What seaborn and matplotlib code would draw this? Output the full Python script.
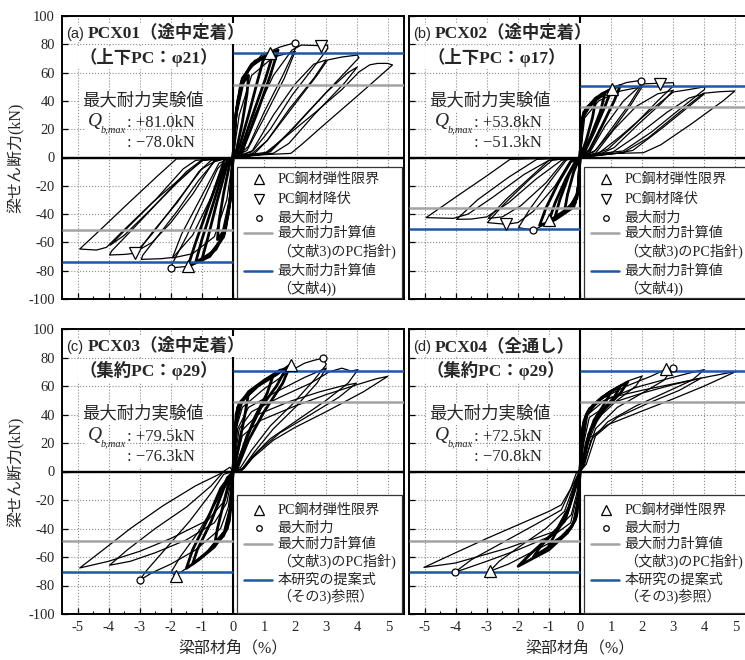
import numpy as np
import pandas as pd
import seaborn as sns
import matplotlib.pyplot as plt
from matplotlib.patches import Rectangle

# Seaborn
sns.set_theme(style="white")
JP = ['Liberation Serif', 'Noto Sans CJK JP']
plt.rcParams['font.family'] = JP

# ---------------------------------
# Data (drift angle %, shear force kN)
# ---------------------------------
x_ticks = [-5, -4, -3, -2, -1, 0, 1, 2, 3, 4, 5]
y_ticks = [-100, -80, -60, -40, -20, 0, 20, 40, 60, 80, 100]

# (a) PCX01
a_core = [
    [(0, 0), (0.05, 20), (0.15, 40), (0.3, 52), (0.5, 58), (0.45, 45), (0.3, 25), (0.12, 6), (0, 0)],
    [(0, 0), (0.08, 28), (0.25, 52), (0.55, 64), (1.0, 71), (0.8, 55), (0.5, 30), (0.2, 7), (0, 0)],
    [(0, 0), (0.09, 30), (0.28, 54), (0.6, 66), (1.1, 72), (1.3, 74), (1.05, 56), (0.6, 28), (0.25, 5), (0, 0)],
    [(0, 0), (0.1, 32), (0.3, 56), (0.7, 68), (1.2, 73.6), (1.45, 76), (1.2, 58), (0.75, 30), (0.3, 5), (0, 0)],
    [(0, 0), (-0.05, -20), (-0.15, -40), (-0.3, -52), (-0.5, -58), (-0.45, -45), (-0.3, -25), (-0.12, -6), (0, 0)],
    [(0, 0), (-0.08, -28), (-0.25, -52), (-0.55, -65), (-1.0, -72), (-0.8, -56), (-0.5, -30), (-0.2, -6), (0, 0)],
    [(0, 0), (-0.09, -30), (-0.28, -54), (-0.65, -67), (-1.2, -74), (-1.0, -58), (-0.6, -30), (-0.25, -5), (0, 0)],
    [(0, 0), (-0.1, -32), (-0.3, -56), (-0.75, -70), (-1.45, -77), (-1.2, -60), (-0.75, -32), (-0.3, -5), (0, 0)],
]
a_loops = [
    [(0, 0), (0.12, 30), (0.4, 58), (0.9, 72), (1.5, 78), (1.98, 81), (2.05, 79), (1.6, 58), (1.0, 32), (0.5, 8), (0.25, 3), (0, 0)],
    [(0, 0), (0.2, 30), (0.6, 58), (1.3, 71), (2.0, 75), (1.65, 56), (1.0, 28), (0.45, 5), (0, 0)],
    [(0, 0), (0.3, 3), (0.7, 30), (1.3, 58), (1.9, 76), (2.2, 79.5), (2.82, 79), (3.04, 79.5), (3.05, 77), (2.6, 64), (1.9, 44), (1.2, 20), (0.65, 5), (0.3, 2), (0, 0)],
    [(0, 0), (0.6, 4), (1.3, 30), (2.0, 52), (2.6, 66), (3.0, 69), (2.6, 56), (1.8, 34), (1.1, 12), (0.7, 3), (0, 0)],
    [(0, 0), (0.6, 2.5), (1.1, 12), (2.0, 38), (2.7, 58), (3.04, 68.9), (3.5, 71), (4.0, 72.4), (4.05, 70.5), (3.3, 53), (2.4, 32), (1.6, 13), (1.2, 4), (0.5, 2), (0, 0)],
    [(0, 0), (1.1, 3), (2.0, 22), (3.0, 46), (3.7, 60), (4.0, 64), (3.6, 53), (2.6, 30), (1.8, 10), (1.3, 3), (0, 0)],
    [(0, 0), (1.0, 2.5), (1.6, 13), (2.6, 31), (3.5, 48), (4.06, 60.6), (4.4, 65.5), (4.65, 66.5), (4.97, 66.5), (5.13, 65.4), (4.0, 43.5), (3.0, 24.5), (2.2, 9), (1.86, 2.9), (1.0, 2), (0, 0)],
    [(0, 0), (-0.12, -30), (-0.4, -58), (-0.9, -72), (-1.48, -77), (-2.0, -78), (-1.95, -75), (-1.5, -56), (-0.95, -30), (-0.5, -8), (-0.25, -2), (0, 0)],
    [(0, 0), (-0.2, -30), (-0.6, -56), (-1.3, -68), (-1.95, -71), (-1.65, -54), (-1.0, -27), (-0.45, -4), (0, 0)],
    [(0, 0), (-0.3, -2), (-0.7, -28), (-1.3, -55), (-1.93, -70.6), (-2.3, -71.5), (-2.95, -72), (-2.9, -69), (-2.4, -55), (-1.8, -38), (-1.1, -16), (-0.6, -3), (-0.25, -1), (0, 0)],
    [(0, 0), (-0.6, -2), (-1.3, -26), (-2.0, -46), (-2.6, -60), (-3.0, -65), (-2.6, -53), (-1.8, -32), (-1.1, -10), (-0.7, -2), (0, 0)],
    [(0, 0), (-0.5, -1.5), (-1.0, -8), (-1.9, -34), (-2.6, -54), (-3.0, -64), (-3.16, -67.7), (-3.5, -68.5), (-3.97, -68.9), (-3.9, -66), (-3.2, -50), (-2.3, -29), (-1.5, -10), (-0.96, -1), (0, 0)],
    [(0, 0), (-1.0, -2), (-1.8, -18), (-2.8, -40), (-3.5, -55), (-3.95, -62), (-3.5, -52), (-2.5, -30), (-1.6, -8), (-1.2, -2), (0, 0)],
    [(0, 0), (-0.96, -2), (-1.6, -13), (-2.6, -32), (-3.5, -51), (-4.07, -63.5), (-4.39, -65.4), (-4.93, -64.7), (-4.2, -49.7), (-3.4, -33), (-2.4, -12.5), (-1.82, -1), (-0.8, -0.8), (0, 0)],
]
a_elastic = [(1.2, 73.6), (-1.45, -77.0)]
a_yield = [(2.82, 79.0), (-3.16, -67.3)]
a_peak = [(1.98, 81.0), (-2.01, -78.0)]
a_calc = [51.2, 73.6]          # gray, blue

# (b) PCX02
b_core = [
    [(0, 0), (0.03, 15), (0.08, 28), (0.3, 36), (0.5, 40), (0.4, 28), (0.2, 12), (0.05, 3), (0, 0)],
    [(0, 0), (0.04, 18), (0.1, 30), (0.4, 39), (0.8, 45), (0.65, 32), (0.35, 15), (0.1, 3), (0, 0)],
    [(0, 0), (0.05, 22), (0.12, 32), (0.5, 42), (1.02, 48.6), (0.8, 36), (0.45, 18), (0.15, 4), (0, 0)],
    [(0, 0), (0.06, 25), (0.2, 35), (0.7, 45), (1.3, 51), (1.1, 40), (0.7, 22), (0.3, 5), (0, 0)],
    [(0, 0), (-0.03, -15), (-0.08, -26), (-0.3, -34), (-0.5, -38), (-0.4, -26), (-0.2, -10), (-0.05, -2), (0, 0)],
    [(0, 0), (-0.04, -18), (-0.1, -29), (-0.45, -37), (-0.8, -42), (-0.65, -30), (-0.35, -12), (-0.1, -2), (0, 0)],
    [(0, 0), (-0.05, -20), (-0.15, -32), (-0.6, -40), (-0.99, -44.2), (-0.8, -32), (-0.45, -15), (-0.15, -3), (0, 0)],
    [(0, 0), (-0.06, -24), (-0.2, -35), (-0.8, -44), (-1.3, -48), (-1.1, -36), (-0.7, -18), (-0.3, -3), (0, 0)],
]
b_loops = [
    [(0, 0), (0.08, 28), (0.4, 40), (1.0, 49), (1.5, 53), (1.95, 54.5), (2.04, 53.5), (1.6, 38), (1.0, 20), (0.5, 5), (0.2, 2), (0, 0)],
    [(0, 0), (0.15, 28), (0.6, 40), (1.3, 47), (2.0, 50), (1.6, 36), (1.0, 18), (0.45, 4), (0, 0)],
    [(0, 0), (0.3, 3), (0.8, 22), (1.4, 40), (2.0, 52), (2.57, 52.5), (3.0, 52.9), (3.02, 51), (2.5, 40), (1.7, 22), (0.9, 6), (0.54, 3), (0, 0)],
    [(0, 0), (0.5, 3), (1.1, 20), (1.8, 36), (2.5, 45), (3.0, 47.5), (2.6, 38), (1.9, 24), (1.1, 7), (0.7, 3), (0, 0)],
    [(0, 0), (0.6, 3), (1.3, 15), (2.2, 32), (3.0, 46.3), (3.5, 48), (4.02, 50), (4.0, 48), (3.2, 34), (2.3, 18), (1.39, 4.6), (0.5, 2.5), (0, 0)],
    [(0, 0), (1.0, 3), (1.8, 15), (2.8, 32), (3.5, 42), (4.0, 45), (3.5, 36), (2.6, 20), (1.7, 5), (1.2, 3), (0, 0)],
    [(0, 0), (1.4, 3.5), (2.2, 14), (3.2, 32), (3.97, 45.4), (4.5, 46.5), (4.98, 47), (4.6, 40), (3.6, 24), (2.6, 9), (2.04, 3.4), (0.5, 2.5), (0, 0)],
    [(0, 0), (-0.1, -25), (-0.4, -38), (-1.0, -46), (-1.5, -51.3), (-1.98, -49.6), (-1.6, -36), (-1.0, -18), (-0.43, -1.5), (0, 0)],
    [(0, 0), (-0.3, -2), (-0.8, -20), (-1.5, -38), (-2.0, -46), (-2.38, -47.2), (-2.98, -46), (-2.4, -32), (-1.6, -15), (-0.86, -1.3), (0, 0)],
    [(0, 0), (-0.5, -2), (-1.1, -18), (-1.9, -34), (-2.5, -42), (-2.95, -43), (-2.4, -30), (-1.6, -14), (-1.0, -2), (0, 0)],
    [(0, 0), (-0.6, -2), (-1.4, -15), (-2.3, -32), (-3.0, -42), (-3.5, -43.5), (-3.97, -43.7), (-3.3, -30), (-2.3, -14), (-1.39, -1.3), (0, 0)],
    [(0, 0), (-1.0, -2), (-1.8, -12), (-2.8, -28), (-3.6, -40), (-4.07, -43), (-4.95, -42.5), (-4.0, -28), (-3.0, -13), (-2.25, -1.3), (0, 0)],
]
b_elastic = [(1.02, 48.6), (-0.99, -44.2)]
b_yield = [(2.57, 52.2), (-2.38, -47.2)]
b_peak = [(1.95, 53.8), (-1.5, -51.3)]
b_calc = [35.5, 50.8]

# (c) PCX03
c_core = [
    [(0, 0), (0.04, 20), (0.1, 40), (0.2, 48), (0.5, 55), (0.4, 42), (0.25, 25), (0.1, 8), (0, 0)],
    [(0, 0), (0.05, 25), (0.15, 45), (0.5, 56), (1.0, 64), (1.3, 68), (1.1, 55), (0.7, 38), (0.35, 18), (0.1, 3), (0, 0)],
    [(0, 0), (0.1, 35), (0.3, 50), (0.9, 62), (1.5, 71), (1.7, 72), (1.4, 60), (0.9, 45), (0.45, 25), (0.15, 5), (0, 0)],
    [(0, 0), (0.08, 30), (0.22, 48), (0.8, 60), (1.4, 68), (1.85, 75), (1.6, 62), (1.0, 42), (0.5, 22), (0.15, 3), (0, 0)],
    [(0, 0), (-0.04, -18), (-0.12, -35), (-0.3, -45), (-0.6, -52), (-0.5, -40), (-0.3, -22), (-0.1, -5), (0, 0)],
    [(0, 0), (-0.08, -26), (-0.25, -42), (-0.8, -56), (-1.3, -65), (-1.15, -55), (-0.7, -35), (-0.3, -12), (0, 0)],
    [(0, 0), (-0.06, -22), (-0.18, -40), (-0.6, -53), (-1.1, -62), (-1.5, -68), (-1.3, -55), (-0.85, -35), (-0.4, -12), (0, 0)],
]
c_loops = [
    [(0, 0), (0.1, 30), (0.3, 45), (1.0, 58), (1.8, 70), (2.3, 76), (2.6, 78), (2.89, 79.5), (3.0, 75), (2.6, 64), (1.9, 47), (1.2, 32), (0.6, 15), (0.25, 3), (0, 0)],
    [(0, 0), (0.15, 30), (0.5, 45), (1.4, 56), (2.3, 66), (3.0, 72.6), (2.7, 62), (2.0, 45), (1.3, 30), (0.7, 14), (0.3, 2), (0, 0)],
    [(0, 0), (0.2, 30), (0.6, 42), (1.5, 52), (2.5, 62), (3.1, 70), (3.5, 72.5), (3.8, 70.5), (4.02, 71.5), (3.7, 62), (3.0, 50), (2.0, 35), (1.2, 23), (0.6, 10), (0.3, 2), (0, 0)],
    [(0, 0), (0.25, 28), (0.8, 40), (1.8, 49), (2.8, 56), (3.5, 60), (3.97, 62), (3.4, 52), (2.5, 40), (1.5, 27), (0.8, 14), (0.35, 2), (0, 0)],
    [(0, 0), (0.3, 25), (0.9, 36), (2.0, 46), (3.0, 54), (4.0, 61), (4.6, 65), (4.98, 66.8), (4.2, 56), (3.0, 42), (2.0, 31), (1.3, 22), (0.6, 9), (0.3, 1), (0, 0)],
    [(0, 0), (-0.1, -25), (-0.3, -42), (-0.9, -58), (-1.5, -68), (-1.84, -72.9), (-2.0, -71), (-1.7, -60), (-1.1, -42), (-0.5, -20), (-0.2, -4), (0, 0)],
    [(0, 0), (-0.15, -25), (-0.4, -40), (-1.2, -55), (-2.0, -65), (-2.6, -71), (-3.0, -76.3), (-2.8, -70), (-2.2, -55), (-1.4, -35), (-0.7, -15), (-0.3, -2), (0, 0)],
    [(0, 0), (-0.2, -22), (-0.6, -36), (-1.5, -48), (-2.5, -57), (-3.3, -63), (-3.97, -65.8), (-3.4, -55), (-2.5, -40), (-1.5, -25), (-0.7, -10), (-0.3, 0), (0, 0)],
    [(0, 0), (-0.25, -20), (-0.8, -34), (-2.0, -47), (-3.0, -56), (-4.0, -63), (-4.93, -67.7), (-4.0, -52), (-3.3, -40), (-2.25, -24), (-1.2, -10), (-0.45, -2), (-0.1, 3), (0, 0)],
]
c_elastic = [(1.85, 75.0), (-1.84, -73.0)]
c_peak = [(2.89, 79.5), (-3.0, -76.3)]
c_calc = [48.5, 70.7]

# (d) PCX04
d_core = [
    [(0, 0), (0.03, 15), (0.08, 30), (0.2, 40), (0.6, 50), (1.0, 56), (0.8, 48), (0.45, 36), (0.2, 20), (0.08, 5), (0, 0)],
    [(0, 0), (0.04, 16), (0.1, 32), (0.25, 42), (0.7, 52), (1.3, 60), (1.1, 52), (0.6, 40), (0.28, 26), (0.1, 6), (0, 0)],
    [(0, 0), (0.05, 18), (0.12, 35), (0.3, 44), (0.9, 55), (1.54, 63), (1.3, 55), (0.8, 44), (0.35, 30), (0.12, 8), (0, 0)],
    [(0, 0), (-0.03, -15), (-0.1, -30), (-0.25, -38), (-0.6, -46), (-1.0, -52), (-0.8, -44), (-0.45, -32), (-0.2, -15), (-0.05, -3), (0, 0)],
    [(0, 0), (-0.04, -16), (-0.12, -32), (-0.3, -40), (-0.8, -50), (-1.5, -60), (-1.25, -52), (-0.75, -41), (-0.35, -25), (-0.1, -5), (0, 0)],
    [(0, 0), (-0.05, -18), (-0.15, -34), (-0.4, -43), (-1.0, -55), (-1.99, -66.5), (-1.6, -58), (-1.0, -46), (-0.5, -35), (-0.2, -15), (0, 0)],
]
d_loops = [
    [(0, 0), (0.06, 20), (0.15, 38), (0.4, 47), (1.0, 57), (1.6, 64), (2.0, 67), (1.8, 60), (1.2, 50), (0.6, 38), (0.25, 20), (0.1, 3), (0, 0)],
    [(0, 0), (0.08, 20), (0.2, 40), (0.6, 50), (1.5, 60), (2.3, 67), (2.78, 71.9), (2.99, 72.5), (2.7, 64), (2.0, 55), (1.2, 45), (0.5, 30), (0.2, 10), (0, 0)],
    [(0, 0), (0.1, 20), (0.25, 40), (0.8, 50), (1.8, 59), (2.8, 65), (3.5, 69), (4.0, 71.5), (3.6, 64), (2.8, 56), (1.8, 46), (0.9, 35), (0.35, 22), (0.15, 5), (0, 0)],
    [(0, 0), (0.12, 20), (0.3, 38), (1.0, 48), (2.0, 55), (3.0, 61), (3.9, 65.6), (3.2, 57), (2.2, 48), (1.2, 38), (0.5, 25), (0.2, 5), (0, 0)],
    [(0, 0), (0.05, 10), (0.2, 38), (0.5, 47), (1.0, 52), (2.0, 57), (3.0, 61.5), (4.0, 66), (5.03, 70.3), (4.0, 60), (3.0, 51), (1.97, 42.2), (0.9, 32.9), (0.31, 23.5), (0.15, 12), (0, 0)],
    [(0, 0), (-0.08, -20), (-0.25, -38), (-0.6, -46), (-1.5, -56), (-2.3, -65), (-2.9, -70), (-2.6, -63), (-1.9, -52), (-1.1, -40), (-0.5, -28), (-0.2, -10), (0, 0)],
    [(0, 0), (-0.1, -18), (-0.3, -36), (-0.8, -44), (-2.0, -55), (-3.0, -63), (-4.03, -70.8), (-3.5, -62), (-2.5, -50), (-1.5, -38), (-0.6, -27), (-0.25, -10), (0, 0)],
    [(0, 0), (-0.1, -15), (-0.28, -30.3), (-0.81, -42), (-2.32, -53.7), (-4.0, -64.2), (-5.02, -67.3), (-4.0, -57), (-3.0, -47), (-2.0, -37.5), (-1.0, -28), (-0.6, -23.4), (-0.3, -12), (-0.1, 0), (0, 0)],
]
d_elastic = [(2.78, 71.9), (-2.9, -70.0)]
d_peak = [(2.99, 72.5), (-4.03, -70.8)]
d_calc = [48.5, 70.7]

# Texts
tags = ['(a)', '(b)', '(c)', '(d)']
names = ['PCX01（途中定着）', 'PCX02（途中定着）', 'PCX03（途中定着）', 'PCX04（全通し）']
notes = ['（上下PC：φ21）', '（上下PC：φ17）', '（集約PC：φ29）', '（集約PC：φ29）']
q_pos = ['+81.0kN', '+53.8kN', '+79.5kN', '+72.5kN']
q_neg = ['−78.0kN', '−51.3kN', '−76.3kN', '−70.8kN']

GRAY = '#a3a3a3'
BLUE = '#1d57a5'


# ---------------------------------
# Methods
# ---------------------------------
def to_frame(loops):
    """Long table of loop vertices."""
    rows = [(i, j, x, y) for i, loop in enumerate(loops)
            for j, (x, y) in enumerate(loop)]
    return pd.DataFrame(rows, columns=['loop', 'step', 'x', 'y'])


def draw_panel(ax, k, core, loops, elastic, peak, calc, yielded=None):
    ax.set_xlim(-5.5, 5.5)
    ax.set_ylim(-100, 100)
    ax.set_axisbelow(True)
    ax.grid(True, which='major', ls=':', color='#8a8a8a', lw=0.8)
    ax.axhline(0, color='black', lw=1.7, zorder=1.5)
    ax.axvline(0, color='black', lw=1.5, zorder=1.5)

    # hysteresis loops
    sns.lineplot(data=to_frame(core), x='x', y='y', units='loop',
                 estimator=None, sort=False, color='black', lw=2.0,
                 legend=False, ax=ax, zorder=2)
    sns.lineplot(data=to_frame(loops), x='x', y='y', units='loop',
                 estimator=None, sort=False, color='black', lw=0.9,
                 legend=False, ax=ax, zorder=2)

    # calculated strengths
    ax.hlines([calc[0]], 0, 5.5, color=GRAY, lw=1.8, zorder=3)
    ax.hlines([-calc[0]], -5.5, 0, color=GRAY, lw=1.8, zorder=3)
    ax.hlines([calc[1]], 0, 5.5, color=BLUE, lw=1.8, zorder=3)
    ax.hlines([-calc[1]], -5.5, 0, color=BLUE, lw=1.8, zorder=3)

    # markers
    mk = dict(ls='none', mfc='white', mec='black', mew=0.9, zorder=4)
    ax.plot(*zip(*elastic), marker='^', ms=8, **mk)
    if yielded is not None:
        ax.plot(*zip(*yielded), marker='v', ms=8, **mk)
    ax.plot(*zip(*peak), marker='o', ms=5, **mk)

    # ticks
    ax.set_xticks(x_ticks)
    ax.set_xticks(np.arange(-5.5, 5.6, 0.5), minor=True)
    ax.set_yticks(y_ticks)
    ax.set_xticklabels([str(v) for v in x_ticks])
    ax.set_yticklabels([str(v) for v in y_ticks])
    ax.tick_params(axis='both', which='major', direction='in', length=4,
                   width=0.9, labelsize=10.5, color='black', pad=5)
    ax.tick_params(axis='x', which='minor', direction='in', length=2.5,
                   width=0.8, color='black')
    ax.tick_params(bottom=True, left=True, which='both')
    for s in ax.spines.values():
        s.set_color('black')
        s.set_linewidth(1.4)
    ax.set_xlabel('')
    ax.set_ylabel('')

    # titles and notes
    box = dict(fc='white', ec='none', pad=1.2)
    ax.text(0.012, 0.938, tags[k], transform=ax.transAxes, va='center',
            ha='left', fontsize=10.5, family='Liberation Sans', bbox=box)
    ax.text(0.075, 0.938, names[k], transform=ax.transAxes, va='center',
            ha='left', fontsize=12.5, fontweight='bold', family=JP, bbox=box)
    ax.text(0.255, 0.853, notes[k], transform=ax.transAxes, va='center',
            ha='center', fontsize=12.5, fontweight='bold', family=JP, bbox=box)
    ax.text(0.058, 0.70, '最大耐力実験値', transform=ax.transAxes,
            va='center', ha='left', fontsize=12.5, family=JP, bbox=box)
    ax.text(0.076, 0.627, 'Q', transform=ax.transAxes, va='center',
            ha='left', fontsize=14, style='italic', family='Liberation Serif',
            bbox=box)
    ax.text(0.114, 0.598, 'b,max', transform=ax.transAxes, va='center',
            ha='left', fontsize=7.5, style='italic', family='Liberation Serif',
            zorder=5)
    ax.text(0.19, 0.622, ': ' + q_pos[k], transform=ax.transAxes,
            va='center', ha='left', fontsize=12, family=JP)
    ax.text(0.19, 0.551, ': ' + q_neg[k], transform=ax.transAxes,
            va='center', ha='left', fontsize=12, family=JP, bbox=box)

    # legend (hand drawn to keep two-line labels)
    if yielded is not None:
        top = 0.466
        rows = [('^', None, ['PC鋼材弾性限界'], [0.424]),
                ('v', None, ['PC鋼材降伏'], [0.353]),
                ('o', None, ['最大耐力'], [0.286]),
                (None, GRAY, ['最大耐力計算値', '（文献3)のPC指針)'], [0.233, 0.170]),
                (None, BLUE, ['最大耐力計算値', '（文献4))'], [0.099, 0.039])]
    else:
        top = 0.418
        rows = [('^', None, ['PC鋼材弾性限界'], [0.365]),
                ('o', None, ['最大耐力'], [0.302]),
                (None, GRAY, ['最大耐力計算値', '（文献3)のPC指針)'], [0.246, 0.186]),
                (None, BLUE, ['本研究の提案式', '（その3)参照）'], [0.119, 0.063])]
    ax.add_patch(Rectangle((0.512, 0.005), 0.482, top - 0.005,
                           transform=ax.transAxes, fc='white', ec='#333333',
                           lw=0.9, zorder=6))
    for marker, color, labels, ys in rows:
        if marker is not None:
            ax.plot([0.575], [ys[0]], transform=ax.transAxes, ls='none',
                    marker=marker, ms=7 if marker != 'o' else 4,
                    mfc='white', mec='black', mew=0.9, zorder=7,
                    clip_on=False)
        else:
            ax.plot([0.532, 0.614], [ys[0], ys[0]], transform=ax.transAxes,
                    color=color, lw=1.8, zorder=7)
        for lab, yy in zip(labels, ys):
            ax.text(0.629, yy, lab, transform=ax.transAxes, va='center',
                    ha='left', fontsize=10.2, family=JP, zorder=8)


# ---------------------------------
# Plot
# ---------------------------------
fig = plt.figure(figsize=(7.45, 6.6), dpi=100)
ax_a = fig.add_axes([62 / 745, 1 - 299 / 660, 342 / 745, 283 / 660])
ax_b = fig.add_axes([409 / 745, 1 - 299 / 660, 342 / 745, 283 / 660])
ax_c = fig.add_axes([62 / 745, 46 / 660, 342 / 745, 285 / 660])
ax_d = fig.add_axes([409 / 745, 46 / 660, 342 / 745, 285 / 660])

draw_panel(ax_a, 0, a_core, a_loops, a_elastic, a_peak, a_calc, a_yield)
draw_panel(ax_b, 1, b_core, b_loops, b_elastic, b_peak, b_calc, b_yield)
draw_panel(ax_c, 2, c_core, c_loops, c_elastic, c_peak, c_calc)
draw_panel(ax_d, 3, d_core, d_loops, d_elastic, d_peak, d_calc)

for ax in (ax_a, ax_b):
    ax.tick_params(labelbottom=False)
for ax in (ax_b, ax_d):
    ax.tick_params(labelleft=False)
for ax in (ax_c, ax_d):
    ax.set_xlabel('梁部材角（%）', fontsize=11.5, family=JP, labelpad=5)

fig.text(0.022, 1 - 157.5 / 660, '梁せん断力(kN)', rotation=90, va='center',
         ha='center', fontsize=11.5, family=JP)
fig.text(0.022, 1 - 471.5 / 660, '梁せん断力(kN)', rotation=90, va='center',
         ha='center', fontsize=11.5, family=JP)

fig.savefig('out.png', dpi=100)
